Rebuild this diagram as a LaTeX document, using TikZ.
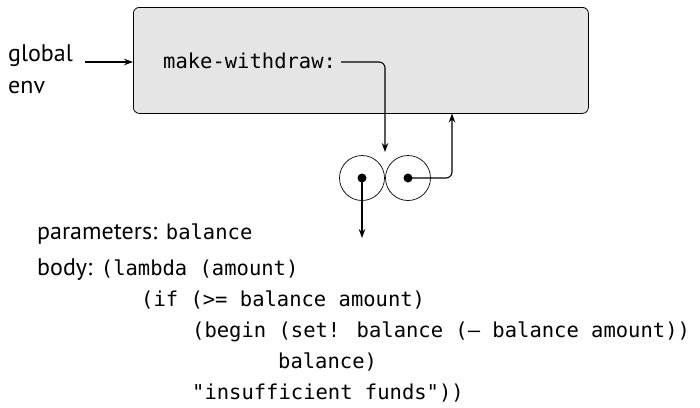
\documentclass[tikz,border=0pt]{standalone}
\usepackage{fontspec}
\setmainfont{PT Sans}
\newfontfamily\codefontfam{DejaVu Sans Mono}
\newcommand\mycode{\codefontfam\fontsize{20.5}{24}\selectfont}
\usetikzlibrary{arrows.meta}
\begin{document}
\begin{tikzpicture}[x=1pt,y=-1pt,
  lbl/.style={inner sep=0pt, anchor=base west, font=\fontsize{24}{28}\selectfont},
  code/.style={inner sep=0pt, anchor=base west, font=\mycode},
  arr/.style={-{Stealth[length=9pt,width=6.5pt]}, line width=1.1pt},
  cell/.style={circle, draw, minimum size=45pt, inner sep=0pt, line width=0.7pt},
  dot/.style={circle, fill, minimum size=9pt, inner sep=0pt},
  frame/.style={draw, fill=black!10, rounded corners=6pt, line width=0.8pt}]
\useasboundingbox (0,0) rectangle (700,407);
\node[frame, minimum width=455pt, minimum height=106pt, anchor=north west] (env) at (133,7) {};
\node[lbl] (glob) at (8,61) {global};
\node[lbl] (envl) at (8,93) {env};
\coordinate (gs) at (85,62);
\draw[arr] (gs) -- (gs -| env.west);
\node[code] (mw) at (163,68) {make-withdraw:};
\coordinate (mwtip) at (385,152);
\draw[arr, rounded corners=6pt] ([xshift=5pt,yshift=6pt]mw.base east) -| (mwtip);
\node[cell] (c1) at (362,178) {};
\node[cell] (c2) at (408,178) {};
\node[dot] (d1) at (c1.center) {};
\node[dot] (d2) at (c2.center) {};
\coordinate (btip) at (362,238);
\draw[arr] (d1.center) -- (btip);
\coordinate (ptr) at (452,113.5);
\draw[arr, rounded corners=6pt] (d2.center) -| (ptr);
\node[lbl] (par) at (37,239) {parameters: {\mycode balance}};
\node[lbl] (body) at (37,275) {body: {\mycode (lambda (amount)}};
\node[code] (l1) at (141,306) {(if (>= balance amount)};
\node[code] (l2) at (192,337) {(begin (set! balance (— balance amount))};
\node[code] (l3) at (278,368) {balance)};
\node[code] (l4) at (192,399) {"insufficient funds"))};
\end{tikzpicture}
\end{document}
